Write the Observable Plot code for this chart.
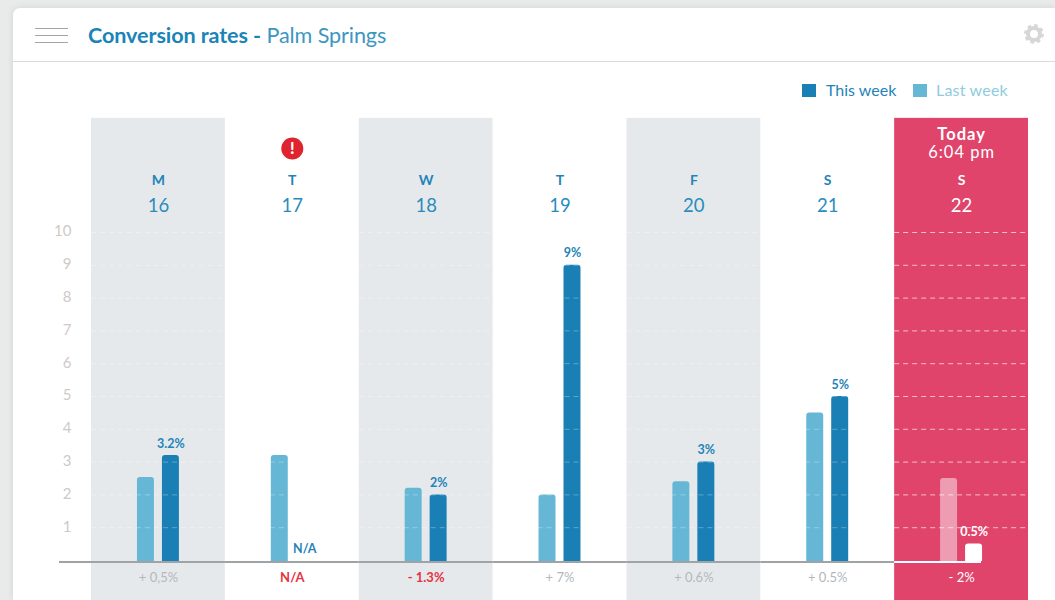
<!DOCTYPE html>
<html>
<head>
<meta charset="utf-8">
<script src="https://cdn.jsdelivr.net/npm/d3@7"></script>
<script src="https://cdn.jsdelivr.net/npm/@observablehq/plot@0.6"></script>
<style>
html,body{margin:0;padding:0;width:1055px;height:600px;overflow:hidden;background:#e9ebeb;font-family:Lato,sans-serif;}
#card{position:absolute;left:13px;top:8px;width:1042px;height:592px;background:#fff;border-radius:7px 0 0 0;box-shadow:0 0 7px rgba(0,0,0,.10);}
#head{position:absolute;left:0;top:0;width:1055px;height:118px;}
#rule{position:absolute;left:13px;top:61px;width:1042px;height:1px;background:#d8dbdc;}
.bar{position:absolute;left:35px;width:33px;height:1px;background:#a5a5a5;}
#title{position:absolute;left:88px;top:22px;font-size:21.6px;line-height:27px;color:#1a84b8;white-space:nowrap;letter-spacing:-.1px;}
#title b{font-weight:700;}
#title span{color:#3d96c2;}
#gear{position:absolute;left:1023px;top:23px;}
.sw{position:absolute;top:84px;width:14px;height:13px;}
.lg{position:absolute;top:80px;font-size:16px;line-height:20px;white-space:nowrap;}
#plot{position:absolute;left:0;top:118px;}
.wide text{letter-spacing:1px;}
</style>
</head>
<body>
<div id="card"></div>
<div id="head">
  <div class="bar" style="top:28px"></div><div class="bar" style="top:35px"></div><div class="bar" style="top:42px"></div>
  <div id="title"><b>Conversion rates -</b> <span>Palm Springs</span></div>
  <svg id="gear" width="22" height="22" viewBox="0 0 22 22"><circle cx="11" cy="11" r="6" fill="none" stroke="#d6d6d6" stroke-width="4"/><circle cx="11" cy="11" r="8.6" fill="none" stroke="#d6d6d6" stroke-width="2.6" stroke-dasharray="3.4 3.35"/></svg>
  <div id="rule"></div>
  <div class="sw" style="left:802px;background:#1a7fb5"></div>
  <div class="lg" style="left:826px;color:#1f84b8">This week</div>
  <div class="sw" style="left:913px;background:#66b7d5"></div>
  <div class="lg" style="left:936px;color:#8fcbe0;letter-spacing:.2px">Last week</div>
</div>
<div id="plot"></div>
<script>
const letters = ["M","T","W","T","F","S","S"];
const dates = [16,17,18,19,20,21,22];
const lastWeek = [2.53,3.2,2.2,2,2.4,4.5,2.5];
const thisWeek = [3.2,null,2,9,3,5,0.5];
const thisLabels = ["3.2%","N/A","2%","9%","3%","5%","0.5%"];
const deltas = ["+ 0,5%","N/A","- 1.3%","+ 7%","+ 0.6%","+ 0.5%","- 2%"];
const deltaColors = ["#b4b8ba","#e5333f","#e5333f","#b4b8ba","#b4b8ba","#b4b8ba","#ffffff"];
const shaded = [16,18,20];
const today = 22;
const ticks = [1,2,3,4,5,6,7,8,9,10];
const seriesNames = ["Last week","This week"];
const colThis = "#1a7fb5", colLast = "#66b7d5", pink = "#e0446b", grey = "#e6e9ec";
const textBlue = "#1f84b8", red = "#e5333f";

const days = dates.map((d,i)=>({date:d,letter:letters[i],delta:deltas[i],deltaColor:deltaColors[i],last:lastWeek[i],cur:thisWeek[i],label:thisLabels[i]}));
const bars = days.flatMap(d=>[
  {date:d.date,series:"Last week",value:d.last},
  {date:d.date,series:"This week",value:d.cur}
]).filter(d=>d.value!=null);
const grid = dates.flatMap(date=>ticks.map(t=>({date,t})));
const isToday = d=>d.date===today;

const chart = Plot.plot({
  width:1055,height:482,
  marginLeft:91,marginRight:27,marginTop:114,marginBottom:40,
  style:{background:"transparent",fontFamily:"Lato,sans-serif",overflow:"visible"},
  fx:{axis:null,domain:dates,padding:0,round:false},
  x:{axis:null,domain:seriesNames,paddingInner:0.32,paddingOuter:1.84,round:false},
  y:{axis:null,domain:[0,10]},
  marks:[
    Plot.rectY(days.filter(d=>shaded.includes(d.date)),{fx:"date",y1:-1.25,y2:13.48,fill:grey}),
    Plot.rectY(days.filter(isToday),{fx:"date",y1:-1.25,y2:13.48,fill:pink}),
    Plot.axisY({ticks,tickSize:0,tickPadding:20,fontSize:15,fill:"#cfcac6",label:null,tickFormat:d=>d,dy:-1}),
    Plot.barY(bars.filter(d=>d.date!==today),{fx:"date",x:"series",y:"value",rx1y1:3,rx2y1:3,
      fill:d=>d.series==="This week"?colThis:colLast,insetBottom:-1}),
    Plot.barY(bars.filter(d=>d.date===today),{fx:"date",x:"series",y:"value",rx1y1:3,rx2y1:3,
      fill:d=>d.series==="This week"?"#ffffff":"#ee9cb2",insetBottom:-1}),
    Plot.ruleY(grid.filter(d=>d.date!==today),{fx:"date",y:"t",stroke:"#ffffff",strokeDasharray:"5 4",strokeOpacity:0.3}),
    Plot.ruleY(grid.filter(isToday),{fx:"date",y:"t",stroke:"#ffffff",strokeDasharray:"5 4",strokeOpacity:0.65}),
    Plot.ruleY(dates.filter(d=>d===16).map(date=>({date,v:0})),{fx:"date",y:"v",dy:1.5,stroke:"#a0a3a5",strokeWidth:2,insetLeft:-32}),
    Plot.ruleY(dates.filter(d=>d!==16&&d!==today).map(date=>({date,v:0})),{fx:"date",y:"v",dy:1.5,stroke:"#a0a3a5",strokeWidth:2}),
    Plot.ruleY([{date:today,v:0}],{fx:"date",y:"v",dy:1.5,stroke:"#ffffff",strokeWidth:2,insetRight:47}),
    Plot.text(days,{fx:"date",x:()=>"This week",y:d=>d.cur==null?0:d.cur,text:"label",dy:-12,fontSize:12.5,fontWeight:700,
      fill:d=>d.date===today?"#ffffff":textBlue}),
    Plot.text(days,{fx:"date",y:()=>11.6,text:"letter",fontSize:14,fontWeight:700,fill:d=>d.date===today?"#ffffff":textBlue}),
    Plot.text(days,{fx:"date",y:()=>10.82,text:"date",fontSize:18.5,fill:d=>d.date===today?"#ffffff":"#2a8cbd"}),
    Plot.text(days.filter(d=>d.deltaColor!==red),{fx:"date",y:()=>-0.52,text:"delta",fontSize:13,fill:"deltaColor"}),
    Plot.text(days.filter(d=>d.deltaColor===red),{fx:"date",y:()=>-0.52,text:"delta",fontSize:13,fontWeight:700,fill:"deltaColor"}),
    Plot.text(days.filter(isToday),{fx:"date",y:()=>12.99,text:()=>"Today",fontSize:16.5,fontWeight:700,fill:"#fff",className:"wide"}),
    Plot.text(days.filter(isToday),{fx:"date",y:()=>12.44,text:()=>"6:04 pm",fontSize:16.5,fill:"#fff",className:"wide"}),
    Plot.dot(days.filter(d=>d.date===17),{fx:"date",y:()=>12.56,r:11,fill:"#e0242f"}),
    Plot.text(days.filter(d=>d.date===17),{fx:"date",y:()=>12.56,text:()=>"!",fontSize:16,fontWeight:900,fill:"#fff"})
  ]
});
document.getElementById("plot").appendChild(chart);
</script>
</body>
</html>
